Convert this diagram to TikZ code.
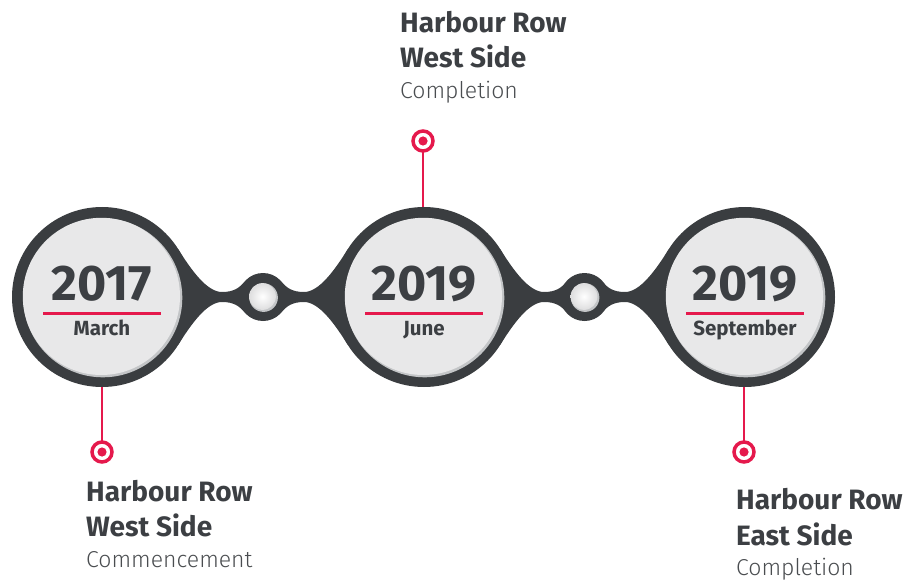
\documentclass[tikz,border=0pt]{standalone}
\usepackage{fontspec}
\setmainfont{Fira Sans}
\newfontfamily\lightfont{Fira Sans Light}
\definecolor{ringdark}{HTML}{3A3D40}
\definecolor{pinred}{HTML}{E5194C}
\definecolor{facelight}{HTML}{E8E8E9}
\definecolor{facerim}{HTML}{C3C5C7}
\definecolor{txtdark}{HTML}{3C3F43}
\definecolor{txtgray}{HTML}{4A4D50}
\tikzset{
  bigring/.style={circle, fill=ringdark, minimum size=180pt, inner sep=0pt, outer sep=0pt},
  smallring/.style={circle, fill=ringdark, minimum size=48pt, inner sep=0pt, outer sep=0pt},
  pinring/.style={circle, draw=pinred, line width=3.5pt, fill=white, minimum size=20pt, inner sep=0pt, outer sep=0pt},
  pinline/.style={draw=pinred, line width=2.7pt},
  yeartxt/.style={anchor=base, inner sep=0pt, text=txtdark, font=\fontsize{50}{50}\selectfont\bfseries},
  monthtxt/.style={anchor=base, inner sep=0pt, text=txtdark, font=\fontsize{20.5}{20.5}\selectfont\bfseries},
  headtxt/.style={anchor=base west, inner sep=0pt, text=txtdark, font=\fontsize{28}{28}\selectfont\bfseries},
  subtxt/.style={anchor=base west, inner sep=0pt, text=txtgray, font=\fontsize{23}{23}\selectfont\lightfont},
  redrule/.style={draw=pinred, line width=3pt}
}
\newcommand{\bridgepath}{%
  \fill[ringdark] (76.3,-47.7) .. controls (89.6,-26.5) and (105,-5) .. (120,-5)
    .. controls (132,-5) and (137.5,-9.3) .. (142.6,-15.4) -- (161,0) -- (142.6,15.4)
    .. controls (137.5,9.3) and (132,5) .. (120,5)
    .. controls (105,5) and (89.6,26.5) .. (76.3,47.7) -- (0,0) -- cycle;}
\begin{document}
\begin{tikzpicture}[x=1pt,y=-1pt]
\useasboundingbox (0,0) rectangle (907,580);
% bridges
\begin{scope}[shift={(102,297)}]\bridgepath\end{scope}
\begin{scope}[shift={(424,297)},xscale=-1]\bridgepath\end{scope}
\begin{scope}[shift={(424,297)}]\bridgepath\end{scope}
\begin{scope}[shift={(745,297)},xscale=-1]\bridgepath\end{scope}
% rings
\node[bigring] (c1) at (102,297) {};
\node[bigring] (c2) at (424,297) {};
\node[bigring] (c3) at (745,297) {};
\node[smallring] (s1) at (263,297) {};
\node[smallring] (s2) at (584.5,297) {};
% faces
\foreach \cx/\nm in {102/f1,424/f2,745/f3}{
  \fill[facerim] (\cx+0.8,297+0.8) circle[radius=79.5];
  \fill[facelight] (\cx-0.6,297-0.6) circle[radius=78.6];
}
\foreach \cx in {263,584.5}{
  \fill[facerim] (\cx+0.6,297+0.6) circle[radius=14.3];
  \shade[inner color=white, outer color=facelight!90!gray] (\cx-0.5,297-0.5) circle[radius=13.4];
}
% years
\node[yeartxt] (y1) at (102,300) {2017};
\node[yeartxt] (y2) at (424,300) {2019};
\node[yeartxt] (y3) at (745,300) {2019};
\foreach \cx in {102,424,745}{
  \draw[redrule] (\cx-59,313) -- (\cx+59,313);
}
\node[monthtxt] (m1) at (102,335) {March};
\node[monthtxt] (m2) at (424,335) {June};
\node[monthtxt] (m3) at (745,335) {September};
% pins
\node[pinring] (p1) at (102,452) {};
\node[pinring] (p2) at (423,141) {};
\node[pinring] (p3) at (744,452) {};
\fill[pinred] (p1) circle[radius=4.6];
\fill[pinred] (p2) circle[radius=4.6];
\fill[pinred] (p3) circle[radius=4.6];
\draw[pinline] (p1) -- (102,387);
\draw[pinline] (p2) -- (423,207);
\draw[pinline] (p3) -- (744,387);
% labels
\node[headtxt] (a1) at (400,33) {Harbour Row};
\node[headtxt] (a2) at (400,68) {West Side};
\node[subtxt] (a3) at (400,99) {Completion};
\node[headtxt] (b1) at (86,501) {Harbour Row};
\node[headtxt] (b2) at (86,536) {West Side};
\node[subtxt] (b3) at (86,567) {Commencement};
\node[headtxt] (d1) at (736,509) {Harbour Row};
\node[headtxt] (d2) at (736,545) {East Side};
\node[subtxt] (d3) at (736,575) {Completion};
\end{tikzpicture}
\end{document}
